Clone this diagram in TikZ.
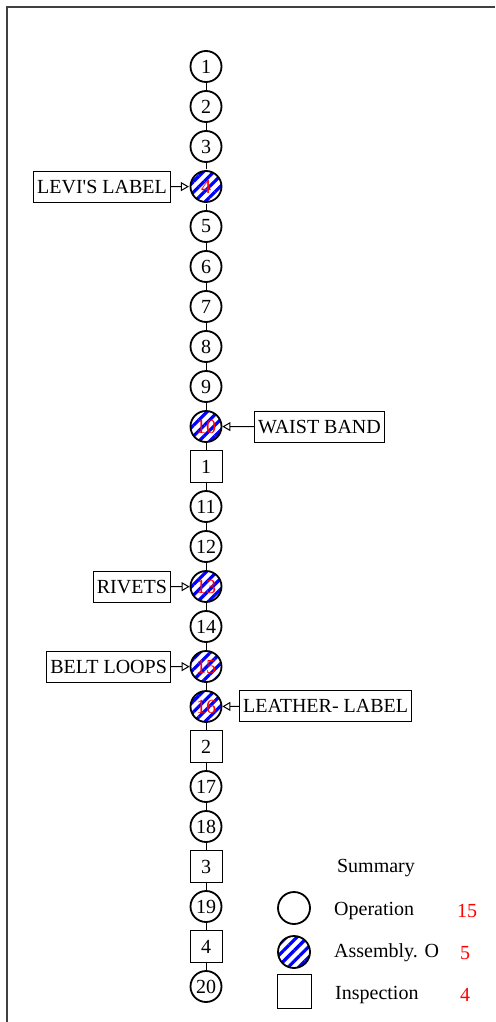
\documentclass[tikz,border=0pt]{standalone}
\usepackage{fontspec}
\setmainfont{Liberation Serif}
\usetikzlibrary{arrows.meta,patterns.meta}
\tikzset{
  op/.style={circle,draw,line width=1.8pt,minimum size=31pt,inner sep=0pt},
  asm/.style={op,pattern={Lines[angle=45,distance=7.5pt,line width=3.2pt]},pattern color=blue,text=red},
  insp/.style={rectangle,draw,line width=1pt,minimum size=32pt,inner sep=0pt},
  tag/.style={rectangle,draw,line width=1.2pt,minimum height=31pt,inner xsep=3.5pt},
  feed/.style={-{Triangle[open,length=8pt,width=9pt]},line width=1pt},
  link/.style={line width=1pt},
  keytext/.style={anchor=west,inner sep=0pt}
}
\begin{document}
\begin{tikzpicture}[x=1pt,y=-1pt,font=\fontsize{20}{23}\selectfont]
\useasboundingbox (0,0) rectangle (495,1022);
\draw[line width=1.8pt,black!75] (495,7) -- (7,7) -- (7,1022);
% process chart
\foreach \kind/\txt [count=\i] in {op/1,op/2,op/3,asm/4,op/5,op/6,op/7,op/8,op/9,asm/10,insp/1,op/11,op/12,asm/13,op/14,asm/15,asm/16,insp/2,op/17,op/18,insp/3,op/19,insp/4,op/20}
  \node[\kind] (s\i) at (206,{26.5+40*\i}) {\txt};
\foreach \i [evaluate=\i as \j using int(\i+1)] in {1,...,23}
  \draw[link] (s\i) -- (s\j);
% parts fed in
\node[tag,anchor=east] (levis) at (171,187) {LEVI\textquotesingle S LABEL};
\draw[feed] (levis) -- (s4);
\node[tag,anchor=west] (waist) at (254,427) {WAIST BAND};
\draw[feed] (waist) -- (s10);
\node[tag,anchor=east] (rivets) at (171,587) {RIVETS};
\draw[feed] (rivets) -- (s14);
\node[tag,anchor=east] (loops) at (171,667) {BELT LOOPS};
\draw[feed] (loops) -- (s16);
\node[tag,anchor=west] (leather) at (239,706) {LEATHER- LABEL};
\draw[feed] (leather) -- (s17);
% summary
\node (sumtitle) at (376,868) {Summary};
\node[op,minimum size=32pt] (keyop) at (294,908) {};
\node[asm,minimum size=32pt] (keyasm) at (294,952) {};
\node[insp,minimum size=34pt] (keyinsp) at (294,991) {};
\node[keytext] (opname) at (334,911) {Operation};
\node[keytext] (asmname) at (334,953) {Assembly. O};
\node[keytext] (inspname) at (335,995) {Inspection};
\node[text=red] (opnum) at (467,911) {15};
\node[text=red] (asmnum) at (465,953) {5};
\node[text=red] (inspnum) at (465,995) {4};
\end{tikzpicture}
\end{document}
